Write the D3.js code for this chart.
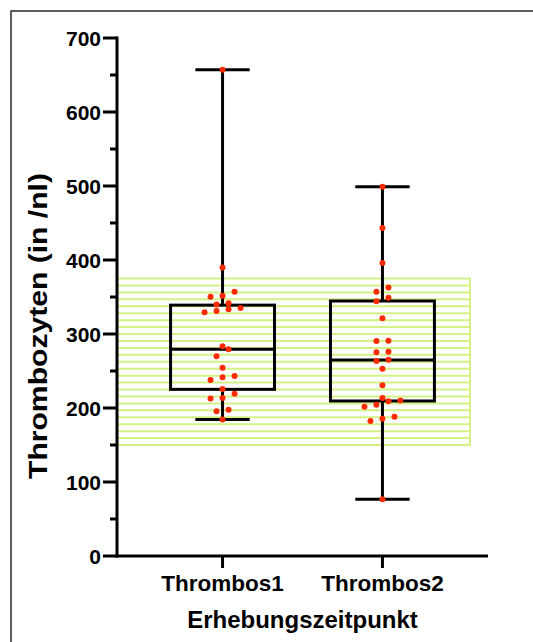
<!DOCTYPE html>
<html>
<head>
<meta charset="utf-8">
<script src="https://cdn.jsdelivr.net/npm/d3@7"></script>
<style>
  html, body { margin: 0; padding: 0; background: #fff; }
  svg { display: block; }
  text { font-family: "Liberation Sans", Arial, sans-serif; font-weight: bold; fill: #000; }
</style>
</head>
<body>
<svg id="chart" width="533" height="642"></svg>
<script>
// Groups on the x axis
const groups = ["Thrombos1", "Thrombos2"];

// Individual platelet counts per group (/nl)
const thrombos1 = [657, 390, 357.2, 351.8, 350.4, 341.4, 340, 335, 333.3, 331, 329.3,
  283.3, 279.3, 270, 254.5, 243.2, 241.4, 237.8, 225.7, 219.3, 213.5, 213, 197.8, 195.5, 184.3];
const thrombos2 = [499, 443.2, 395.9, 363, 357.2, 349.1, 344.1, 321.2, 291, 290.5, 276.1,
  275.2, 265.3, 263.5, 253.1, 230.6, 213.5, 210, 209, 204.5, 201.8, 188.3, 185.6, 182.4, 76.6];

// Box summary per group: whisker min, Q1, median, Q3, whisker max
const boxMin    = [184.5, 76.6];
const boxQ1     = [225.2, 209.5];
const boxMedian = [279.3, 265];
const boxQ3     = [339, 344.6];
const boxMax    = [657, 499];

// Reference range shaded behind the boxes
const refRange = [150, 375];

// Axis ticks
const yMajorTicks = [0, 100, 200, 300, 400, 500, 600, 700];
const yMinorTicks = [50, 150, 250, 350, 450, 550, 650];

const yTitle = "Thrombozyten (in /nl)";
const xTitle = "Erhebungszeitpunkt";

const svg = d3.select("#chart");

// Outer frame
svg.append("rect")
  .attr("x", 11).attr("y", 11)
  .attr("width", 540).attr("height", 660)
  .attr("fill", "none").attr("stroke", "#2a2a2a").attr("stroke-width", 1.5);

const y = d3.scaleLinear().domain([0, 700]).range([556, 38]);
const x = d3.scalePoint().domain(groups).range([117, 488]).padding(0.66);
const step = x.step();

// Reference band: evenly spaced horizontal lines
const bandG = svg.append("g");
const bandLeft = 117, bandRight = 470;
const nLines = 24;
const bandLines = d3.range(nLines + 1).map(i => refRange[0] + i * (refRange[1] - refRange[0]) / nLines);
bandG.selectAll("line.h").data(bandLines).join("line")
  .attr("x1", bandLeft).attr("x2", bandRight)
  .attr("y1", d => y(d)).attr("y2", d => y(d))
  .attr("stroke", "#d2f285").attr("stroke-width", 2);
bandG.append("line")
  .attr("x1", bandRight).attr("x2", bandRight)
  .attr("y1", y(refRange[1]) - 1).attr("y2", y(refRange[0]) + 1)
  .attr("stroke", "#d2f285").attr("stroke-width", 2);

// Box plots
const boxW = step * 0.65, capW = step * 0.34;
const boxG = svg.append("g").attr("stroke", "#000").attr("stroke-width", 3).attr("fill", "none");
groups.forEach((g, i) => {
  const cx = x(g);
  boxG.append("line").attr("x1", cx).attr("x2", cx).attr("y1", y(boxMax[i])).attr("y2", y(boxQ3[i]));
  boxG.append("line").attr("x1", cx).attr("x2", cx).attr("y1", y(boxQ1[i])).attr("y2", y(boxMin[i]));
  boxG.append("line").attr("x1", cx - capW / 2).attr("x2", cx + capW / 2).attr("y1", y(boxMax[i])).attr("y2", y(boxMax[i]));
  boxG.append("line").attr("x1", cx - capW / 2).attr("x2", cx + capW / 2).attr("y1", y(boxMin[i])).attr("y2", y(boxMin[i]));
  boxG.append("rect").attr("x", cx - boxW / 2).attr("width", boxW)
    .attr("y", y(boxQ3[i])).attr("height", y(boxQ1[i]) - y(boxQ3[i]));
  boxG.append("line").attr("x1", cx - boxW / 2).attr("x2", cx + boxW / 2).attr("y1", y(boxMedian[i])).attr("y2", y(boxMedian[i]));
});

// Scatter dots arranged in rows: values close in height share a row and spread sideways
function swarm(values, cx) {
  const sorted = values.slice().sort((a, b) => a - b);
  const rows = [];
  sorted.forEach(v => {
    const last = rows[rows.length - 1];
    if (last && Math.abs(y(last[0]) - y(v)) < 7) last.push(v);
    else rows.push([v]);
  });
  const out = [];
  rows.forEach(r => r.forEach((v, k) => out.push({ v, px: cx + (k - (r.length - 1) / 2) * 12 })));
  return out;
}
const dots = swarm(thrombos1, x(groups[0])).concat(swarm(thrombos2, x(groups[1])));
svg.append("g").selectAll("circle").data(dots).join("circle")
  .attr("cx", d => d.px).attr("cy", d => y(d.v)).attr("r", 3)
  .attr("fill", "#ff2a00");

// Y axis
const yAxisG = svg.append("g").attr("stroke", "#000").attr("stroke-width", 3);
yAxisG.append("line").attr("x1", 117).attr("x2", 117).attr("y1", y(700) - 1.5).attr("y2", y(0) + 1.5);
yAxisG.selectAll("line.maj").data(yMajorTicks).join("line").attr("class", "maj")
  .attr("x1", 103).attr("x2", 117).attr("y1", d => y(d)).attr("y2", d => y(d));
yAxisG.selectAll("line.min").data(yMinorTicks).join("line").attr("class", "min")
  .attr("x1", 110).attr("x2", 117).attr("y1", d => y(d)).attr("y2", d => y(d));
svg.append("g").selectAll("text").data(yMajorTicks).join("text")
  .attr("x", 101).attr("y", d => y(d)).attr("dy", "0.36em")
  .attr("text-anchor", "end").attr("font-size", 21).text(d => d);

// X axis
const xAxisG = svg.append("g").attr("stroke", "#000").attr("stroke-width", 3);
xAxisG.append("line").attr("x1", 115.5).attr("x2", 488).attr("y1", y(0)).attr("y2", y(0));
xAxisG.selectAll("line.t").data(groups).join("line").attr("class", "t")
  .attr("x1", d => x(d)).attr("x2", d => x(d)).attr("y1", y(0)).attr("y2", y(0) + 12);
svg.append("g").selectAll("text").data(groups).join("text")
  .attr("x", d => x(d)).attr("y", 591).attr("text-anchor", "middle")
  .attr("font-size", 22.5).text(d => d);

// Axis titles
svg.append("text").attr("x", 302.5).attr("y", 628).attr("text-anchor", "middle")
  .attr("font-size", 24).text(xTitle);
svg.append("text").attr("transform", "translate(47,326) rotate(-90)")
  .attr("text-anchor", "middle").attr("font-size", 26)
  .attr("textLength", 306).attr("lengthAdjust", "spacingAndGlyphs")
  .text(yTitle);
</script>
</body>
</html>
